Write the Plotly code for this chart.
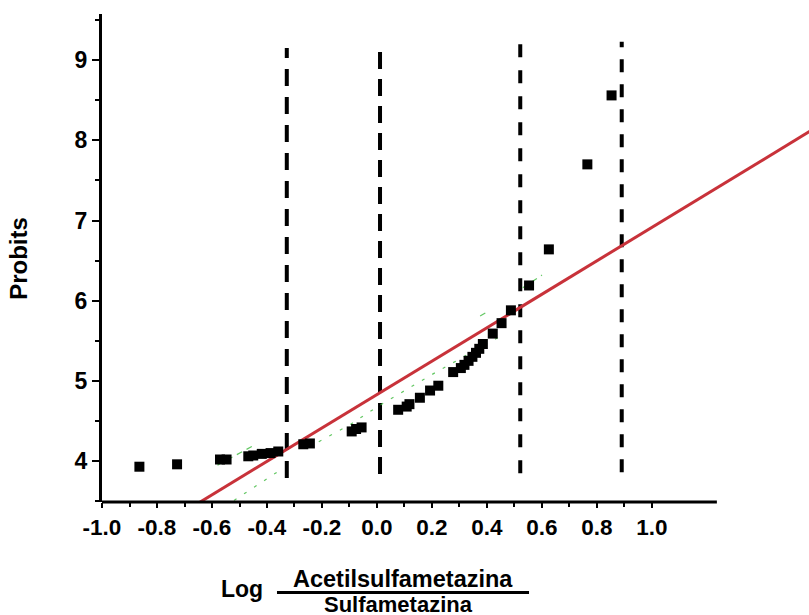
import plotly.graph_objects as go

# Observed probits vs log(acetyl / parent) ratio
log_ratio = [-0.864, -0.727, -0.571, -0.547, -0.468, -0.450, -0.419, -0.387, -0.359,
             -0.268, -0.244, -0.092, -0.076, -0.056, 0.077, 0.108, 0.118, 0.156,
             0.193, 0.223, 0.277, 0.305, 0.318, 0.333, 0.347, 0.360, 0.372, 0.385,
             0.421, 0.453, 0.487, 0.553, 0.625, 0.765, 0.853]
probits = [3.93, 3.96, 4.02, 4.02, 4.06, 4.07, 4.09, 4.10, 4.12,
           4.21, 4.22, 4.37, 4.40, 4.42, 4.64, 4.68, 4.71, 4.79,
           4.88, 4.94, 5.11, 5.16, 5.20, 5.25, 5.30, 5.35, 5.40, 5.46,
           5.59, 5.72, 5.88, 6.19, 6.64, 7.70, 8.56]

# Fitted probit regression line (end points)
fit_x = [-0.66, 1.60]
fit_y = [3.454, 8.166]

# Confidence band fragments (None breaks the line)
upper_x = [-0.58, -0.44, None, 0.375, 0.40, None, 0.53, 0.60]
upper_y = [3.95, 4.21, None, 5.81, 5.86, None, 6.16, 6.32]
lower_x = [-0.52, -0.36, None, -0.25, -0.10, 0.00, 0.20, 0.45]
lower_y = [3.51, 3.87, None, 4.17, 4.45, 4.675, 5.08, 5.56]

# Vertical reference lines (x position, bottom, top, dash pattern)
vline_x = [-0.328, 0.011, 0.521, 0.890]
vline_bottom = [3.79, 3.84, 3.85, 3.86]
vline_top = [9.15, 9.20, 9.21, 9.23]
vline_dash = ["17px,11px", "17px,10px", "13px,13px", "13px,12px"]

x_major = [-1.0, -0.8, -0.6, -0.4, -0.2, 0.0, 0.2, 0.4, 0.6, 0.8, 1.0]
x_labels = ["-1.0", "-0.8", "-0.6", "-0.4", "-0.2", "0.0", "0.2", "0.4", "0.6", "0.8", "1.0"]
x_minor = [-0.9, -0.7, -0.5, -0.3, -0.1, 0.1, 0.3, 0.5, 0.7, 0.9]
y_major = [4, 5, 6, 7, 8, 9]
y_minor = [3.5, 4.5, 5.5, 6.5, 7.5, 8.5, 9.5]

FONT = "Liberation Sans, Arial, sans-serif"

fig = go.Figure()

for xv, yb, yt, d in zip(vline_x, vline_bottom, vline_top, vline_dash):
    fig.add_trace(go.Scatter(x=[xv, xv], y=[yb, yt], mode="lines",
                             line=dict(color="black", width=4, dash=d),
                             hoverinfo="skip", showlegend=False))

fig.add_trace(go.Scatter(x=upper_x, y=upper_y, mode="lines",
                         line=dict(color="rgba(60,185,60,0.8)", width=1.2, dash="6px,5px"),
                         connectgaps=False, showlegend=False, hoverinfo="skip"))
fig.add_trace(go.Scatter(x=lower_x, y=lower_y, mode="lines",
                         line=dict(color="rgba(60,185,60,0.8)", width=1.2, dash="3px,9px"),
                         connectgaps=False, showlegend=False, hoverinfo="skip"))

fig.add_trace(go.Scatter(x=fit_x, y=fit_y, mode="lines",
                         line=dict(color="#C8323A", width=3),
                         showlegend=False))

fig.add_trace(go.Scatter(x=log_ratio, y=probits, mode="markers",
                         marker=dict(symbol="square", size=10, color="black",
                                     line=dict(width=0)),
                         showlegend=False))

# x axis baseline ends at 1.236 while the plot area continues to the right
fig.add_shape(type="line", xref="x", yref="paper", x0=-1.006, x1=1.236, y0=0, y1=0,
              line=dict(color="black", width=3))

fig.update_layout(
    width=809, height=615,
    margin=dict(l=102, r=0, t=14, b=113),
    paper_bgcolor="white", plot_bgcolor="white",
    font=dict(family=FONT, size=22, color="black", weight="bold"),
    xaxis=dict(range=[-1.0, 1.571], showgrid=False, zeroline=False, showline=False,
               tickmode="array", tickvals=x_major, ticktext=x_labels,
               ticks="outside", ticklen=5, tickwidth=1.5, tickcolor="black",
               tickfont=dict(family=FONT, size=22.5, weight="bold"),
               minor=dict(tickmode="array", tickvals=x_minor, ticks="outside",
                          ticklen=4, tickwidth=1.5, tickcolor="black")),
    yaxis=dict(range=[3.49, 9.575], showgrid=False, zeroline=False,
               showline=True, linewidth=3, linecolor="black",
               tickmode="array", tickvals=y_major,
               ticks="outside", ticklen=7, tickwidth=1.5, tickcolor="black",
               tickfont=dict(family=FONT, size=23, weight="bold"),
               minor=dict(tickmode="array", tickvals=y_minor, ticks="outside",
                          ticklen=4, tickwidth=1.5, tickcolor="black")),
    annotations=[
        dict(text="Probits", textangle=-90, xref="paper", yref="paper",
             x=-0.119, y=0.5, xanchor="center", yanchor="middle", showarrow=False,
             font=dict(family=FONT, size=24, weight="bold")),
        dict(text="Log", xref="paper", yref="paper", x=0.1985, y=-0.178,
             xanchor="center", yanchor="middle", showarrow=False,
             font=dict(family=FONT, size=23, weight="bold")),
        dict(text="Acetilsulfametazina", xref="paper", yref="paper", x=0.426, y=-0.158,
             xanchor="center", yanchor="middle", showarrow=False,
             font=dict(family=FONT, size=23.5, weight="bold")),
        dict(text="Sulfametazina", xref="paper", yref="paper", x=0.419, y=-0.211,
             xanchor="center", yanchor="middle", showarrow=False,
             font=dict(family=FONT, size=22, weight="bold")),
    ],
)

# fraction bar under the numerator
fig.add_shape(type="line", xref="paper", yref="paper", x0=0.2475, x1=0.604,
              y0=-0.1855, y1=-0.1855, line=dict(color="black", width=3))

fig.write_html("out.html")
